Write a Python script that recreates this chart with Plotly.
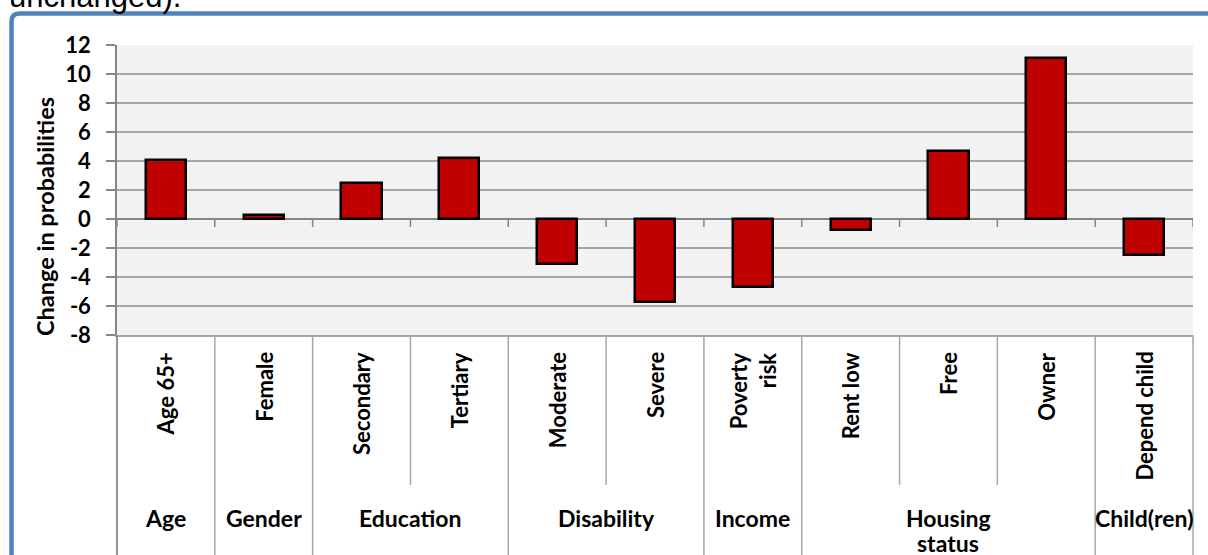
import plotly.graph_objects as go

# ---------------- data ----------------
items = ["Age 65+", "Female", "Secondary", "Tertiary", "Moderate", "Severe",
         "Poverty<br>risk", "Rent low", "Free", "Owner", "Depend child"]
groups = ["Age", "Gender", "Education", "Education", "Disability", "Disability",
          "Income", "Housing<br>status", "Housing<br>status", "Housing<br>status", "Child(ren)"]
values = [4.1, 0.3, 2.5, 4.2, -3.1, -5.7, -4.7, -0.75, 4.7, 11.1, -2.45]
y_ticks = [12, 10, 8, 6, 4, 2, 0, -2, -4, -6, -8]
y_title = "Change in probabilities"
top_text = "unchanged)."

# ---------------- geometry helpers (pixel -> paper) ----------------
W, H = 1208, 555
PL, PR, PT, PB = 117, 1193, 45, 335
PW, PH = PR - PL, PB - PT


def px(x):
    return (x - PL) / PW


def py(y):
    return (PB - y) / PH


FONT = "Lato"
GRID = "#A6A6A6"
AXIS = "#868686"

n = len(items)
xs = list(range(n))

fig = go.Figure()
fig.add_trace(go.Bar(
    x=xs, y=values, width=0.41,
    marker=dict(color="#C00000", line=dict(color="#000000", width=2.5)),
    hoverinfo="skip",
))

shapes = []
annotations = []

# small tick marks on the zero line at category boundaries
for i in range(n + 1):
    shapes.append(dict(type="line", xref="x", yref="y", ysizemode="pixel", yanchor=0,
                       x0=i - 0.5, x1=i - 0.5, y0=0, y1=-8,
                       line=dict(color=AXIS, width=1.5), layer="above"))

# separator lines of the multi-level category area
bottom_px = 560
inner_end_px = 485
for i in range(n + 1):
    if i == 0 or i == n or groups[i - 1] != groups[i]:
        yend = bottom_px
    else:
        yend = inner_end_px
    shapes.append(dict(type="line", xref="x domain", yref="paper",
                       x0=i / n, x1=i / n, y0=0, y1=py(yend),
                       line=dict(color=GRID, width=1.5)))

# item labels (rotated)
for i, lab in enumerate(items):
    annotations.append(dict(x=i, y=py(350), xref="x", yref="paper", text=lab,
                            textangle=-90, showarrow=False, xanchor="center", yanchor="top",
                            align="right",
                            font=dict(family=FONT, size=22, color="#000000", weight="bold")))

# group labels (each line placed separately for tighter line spacing)
seen = []
for g in groups:
    if g not in seen:
        seen.append(g)
for g in seen:
    idx = [i for i, gg in enumerate(groups) if gg == g]
    cx = sum(idx) / len(idx)
    for k, line in enumerate(g.split("<br>")):
        annotations.append(dict(x=cx, y=py(518 + 24.5 * k), xref="x", yref="paper", text=line,
                                showarrow=False, xanchor="center", yanchor="middle",
                                font=dict(family=FONT, size=23, color="#000000", weight="bold")))

# y-axis title
annotations.append(dict(x=px(45), y=py(217), xref="paper", yref="paper", text=y_title,
                        textangle=-90, showarrow=False, xanchor="center", yanchor="middle",
                        font=dict(family=FONT, size=23.5, color="#000000", weight="bold")))

# cut-off text at the very top
annotations.append(dict(x=px(7), y=py(16), xref="paper", yref="paper", text=top_text,
                        showarrow=False, xanchor="left", yanchor="bottom",
                        font=dict(family="Liberation Sans", size=31, color="#000000")))

# left axis line continuing down through category area
shapes.append(dict(type="line", xref="paper", yref="paper", x0=0, x1=0, y0=0, y1=py(bottom_px),
                   line=dict(color=AXIS, width=1.5)))

# blue border (rounded top-left corner)
bx, by, r = 11.5, 13.5, 8
path = (f"M {px(bx)},{py(600)} L {px(bx)},{py(by + r)} "
        f"Q {px(bx)},{py(by)} {px(bx + r)},{py(by)} L {px(1230)},{py(by)}")
shapes.append(dict(type="path", xref="paper", yref="paper", path=path,
                   line=dict(color="#4F81BD", width=4.5)))

fig.update_layout(
    width=W, height=H,
    margin=dict(l=PL, r=W - PR, t=PT, b=H - PB, pad=0),
    paper_bgcolor="#FFFFFF", plot_bgcolor="#F2F2F2",
    showlegend=False, bargap=0,
    shapes=shapes, annotations=annotations,
    xaxis=dict(range=[-0.5, n - 0.5], showticklabels=False, showgrid=False, zeroline=False,
               showline=True, linecolor=GRID, linewidth=1.5, ticks="", fixedrange=True),
    yaxis=dict(range=[-8, 12], tickvals=y_ticks, ticktext=[str(v) for v in y_ticks],
               showgrid=True, gridcolor=GRID, gridwidth=1.5,
               zeroline=True, zerolinecolor=AXIS, zerolinewidth=1.5,
               showline=True, linecolor=AXIS, linewidth=1.5,
               ticks="outside", ticklen=9, tickwidth=1.5, tickcolor=AXIS,
               ticklabelstandoff=11,
               tickfont=dict(family=FONT, size=22, color="#000000", weight="bold"),
               fixedrange=True),
)

fig.write_html("out.html", config={"displayModeBar": False},
               post_script="document.body.style.margin='0';document.body.style.overflow='hidden';")
